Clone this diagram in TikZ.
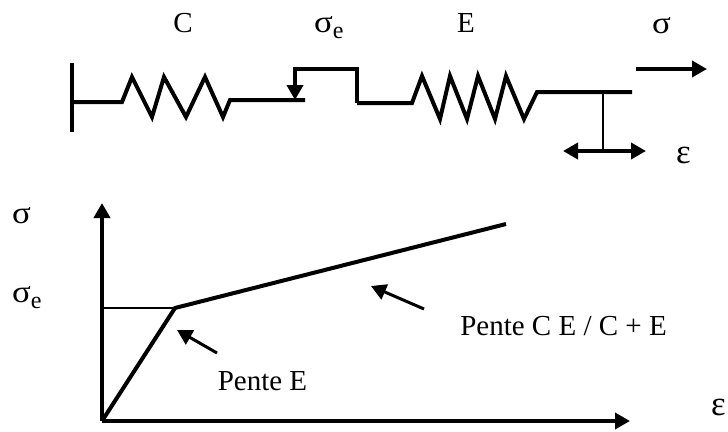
\documentclass[tikz,border=0pt]{standalone}
\usepackage{fontspec}
\setmainfont{Liberation Serif}
\usetikzlibrary{arrows.meta}
\newcommand{\sig}{\scalebox{1.2}[1.08]{σ}}
\newcommand{\subE}{\raisebox{-6pt}{\fontsize{24}{24}\selectfont e}}
\tikzset{
 x=1pt,y=-1pt,
 heavy/.style={line width=4pt,line join=miter},
 medium/.style={line width=3pt},
 thinline/.style={line width=2pt},
 tip/.style={-{Triangle[length=15pt,width=16pt]}},
 lab/.style={inner sep=0pt,anchor=base,font=\fontsize{29}{29}\selectfont},
 greek/.style={lab,anchor=base west},
}
\begin{document}
\begin{tikzpicture}
\useasboundingbox (0,0) rectangle (728,431);
\fill[white] (0,0) rectangle (728,431);
% labels
\node[lab] (lc) at (183,32) {C};
\node[greek] (lse) at (314,32) {\sig\subE};
\node[lab] (le) at (466,32) {E};
\node[greek] (ls) at (652,33) {\sig};
\node[greek] (leps) at (676,163) {\scalebox{1.2}[1.2]{ε}};
\node[greek] (lsy) at (12,223) {\sig};
\node[greek] (lsey) at (12,302) {\sig\subE};
\node[greek] (lex) at (711,415) {\scalebox{1.2}[1.2]{ε}};
\node[lab] (lp1) at (262.5,390) {Pente E};
\node[lab] (lp2) at (563.5,335) {Pente C E / C + E};
% coordinates
\coordinate (w1) at (72,63); \coordinate (w2) at (72,132); \coordinate (w0) at (72,102);
\coordinate (a1) at (122,102); \coordinate (a2) at (230,100); \coordinate (a3) at (305,100);
\coordinate (b0) at (295,100); \coordinate (b1) at (295,69); \coordinate (b2) at (357,69); \coordinate (b3) at (357,103);
\coordinate (c1) at (412,103); \coordinate (c2) at (537,92); \coordinate (c3) at (632,92);
\coordinate (d1) at (603,92); \coordinate (d2) at (603,151);
\coordinate (e1) at (563,151); \coordinate (e2) at (646,151);
\coordinate (s1) at (636,69); \coordinate (s2) at (707,69);
\coordinate (o) at (102,421); \coordinate (yt) at (102,203); \coordinate (xt) at (630,421);
\coordinate (k) at (175,308); \coordinate (ky) at (102,308); \coordinate (en) at (506,224);
\coordinate (p1a) at (217,353); \coordinate (p1b) at (177,330);
\coordinate (p2a) at (424,309); \coordinate (p2b) at (371,286);
% mechanism
\draw[heavy] (w1) -- (w2);
\draw[heavy] (w0) -- (a1) -- (132,77) -- (152,117) -- (164,77) -- (186,117) -- (205,77) -- (223,117) -- (a2) -- (a3);
\draw[heavy,tip] (b3) -- (b2) -- (b1) -- (b0);
\draw[heavy] (b3) -- (c1) -- (422,76) -- (440,119) -- (450,76) -- (467,119) -- (478,76) -- (495,119) -- (506,76) -- (524,119) -- (c2) -- (c3);
\draw[thinline] (d1) -- (d2);
\draw[heavy,{Triangle[length=15pt,width=16pt]}-{Triangle[length=15pt,width=16pt]}] (e1) -- (e2);
\draw[heavy,tip] (s1) -- (s2);
% graph
\draw[heavy,tip] (o) -- (yt);
\draw[heavy,tip] (o) -- (xt);
\draw[thinline] (ky) -- (k);
\draw[heavy] (o) -- (k) -- (en);
\draw[medium,tip] (p1a) -- (p1b);
\draw[medium,tip] (p2a) -- (p2b);
\end{tikzpicture}
\end{document}
